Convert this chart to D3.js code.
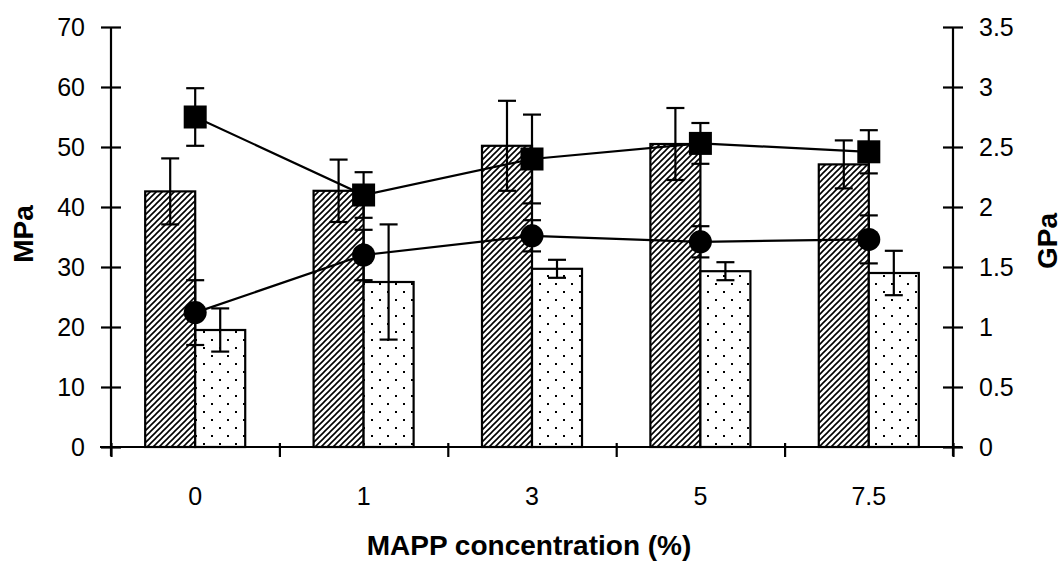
<!DOCTYPE html>
<html>
<head>
<meta charset="utf-8">
<script src="https://cdn.jsdelivr.net/npm/d3@7"></script>
<style>
  html, body { margin: 0; padding: 0; background: #fff; }
  svg { display: block; }
  text { font-family: "Liberation Sans", Arial, sans-serif; fill: #000; }
</style>
</head>
<body>
<svg id="chart" width="1063" height="562"></svg>
<script>
// ---- data ----
const categories = ["0", "1", "3", "5", "7.5"];
// bars (left axis, MPa)
const hatchedBar = [42.6, 42.7, 50.2, 50.5, 47.1];
const hatchedErr = [5.5, 5.2, 7.5, 6.0, 4.0];
const dottedBar = [19.5, 27.5, 29.7, 29.3, 29.0];
const dottedErr = [3.6, 9.6, 1.5, 1.5, 3.7];
// lines (right axis, GPa)
const squareLine = [2.75, 2.10, 2.40, 2.53, 2.46];
const squareErr = [0.24, 0.19, 0.37, 0.17, 0.18];
const circleLine = [1.12, 1.60, 1.76, 1.71, 1.73];
const circleErr = [0.27, 0.21, 0.13, 0.13, 0.20];
const leftTicks = [0, 10, 20, 30, 40, 50, 60, 70];
const rightTicks = [0, 0.5, 1, 1.5, 2, 2.5, 3, 3.5];

// ---- layout ----
const svg = d3.select("#chart");
const x0 = 111, x1 = 953, yBase = 447, yTop = 27;

const defs = svg.append("defs");
const hatch = defs.append("pattern").attr("id", "hatch")
  .attr("patternUnits", "userSpaceOnUse").attr("width", 6).attr("height", 6);
hatch.append("rect").attr("width", 6).attr("height", 6).attr("fill", "#fff");
hatch.append("path").attr("d", "M0,6 L6,0 M-1,1 L1,-1 M5,7 L7,5")
  .attr("stroke", "#000").attr("stroke-width", 1.6);
const dots = defs.append("pattern").attr("id", "dots")
  .attr("patternUnits", "userSpaceOnUse").attr("width", 16).attr("height", 16);
dots.append("rect").attr("width", 16).attr("height", 16).attr("fill", "#fff");
dots.append("rect").attr("x", 3).attr("y", 3).attr("width", 2).attr("height", 2).attr("fill", "#000");
dots.append("rect").attr("x", 11).attr("y", 11).attr("width", 2).attr("height", 2).attr("fill", "#000");

const xBand = d3.scaleBand().domain(categories).range([x0, x1])
  .paddingInner(0.406).paddingOuter(0.203);
const xSub = d3.scaleBand().domain(["h", "d"]).range([0, xBand.bandwidth()]);
const xBound = d3.scaleLinear().domain([0, categories.length]).range([x0, x1]);
const yL = d3.scaleLinear().domain([0, 70]).range([yBase, yTop]);
const yR = d3.scaleLinear().domain([0, 3.5]).range([yBase, yTop]);
const cx = c => xBand(c) + xBand.bandwidth() / 2;

// bars
const barSeries = [
  { key: "h", vals: hatchedBar, errs: hatchedErr, fill: "url(#hatch)" },
  { key: "d", vals: dottedBar, errs: dottedErr, fill: "url(#dots)" }
];
barSeries.forEach(s => {
  svg.append("g").selectAll("rect").data(categories).join("rect")
    .attr("x", c => xBand(c) + xSub(s.key))
    .attr("y", (c, i) => yL(s.vals[i]))
    .attr("width", xSub.bandwidth())
    .attr("height", (c, i) => yBase - yL(s.vals[i]))
    .attr("fill", s.fill).attr("stroke", "#000").attr("stroke-width", 2.2);
});

function errBars(xf, vals, errs, yS) {
  const g = svg.append("g").attr("stroke", "#000").attr("stroke-width", 2.2);
  categories.forEach((c, i) => {
    const x = xf(c), yt = yS(vals[i] + errs[i]), yb = yS(vals[i] - errs[i]);
    g.append("line").attr("x1", x).attr("x2", x).attr("y1", yt).attr("y2", yb);
    g.append("line").attr("x1", x - 9).attr("x2", x + 9).attr("y1", yt).attr("y2", yt);
    g.append("line").attr("x1", x - 9).attr("x2", x + 9).attr("y1", yb).attr("y2", yb);
  });
}
barSeries.forEach(s => errBars(c => xBand(c) + xSub(s.key) + xSub.bandwidth() / 2, s.vals, s.errs, yL));

// lines
const line = d3.line().x(d => d[0]).y(d => d[1]);
[squareLine, circleLine].forEach(vals => {
  svg.append("path").attr("d", line(categories.map((c, i) => [cx(c), yR(vals[i])])))
    .attr("fill", "none").attr("stroke", "#000").attr("stroke-width", 2.2);
});
errBars(cx, squareLine, squareErr, yR);
errBars(cx, circleLine, circleErr, yR);
svg.append("g").selectAll("rect").data(categories).join("rect")
  .attr("x", c => cx(c) - 11.5).attr("y", (c, i) => yR(squareLine[i]) - 11.5)
  .attr("width", 23).attr("height", 23).attr("fill", "#000");
svg.append("g").selectAll("circle").data(categories).join("circle")
  .attr("cx", c => cx(c)).attr("cy", (c, i) => yR(circleLine[i]))
  .attr("r", 11.5).attr("fill", "#000");

// axes
const axL = svg.append("g").attr("transform", `translate(${x0},0)`)
  .call(d3.axisLeft(yL).tickValues(leftTicks).tickSize(10).tickPadding(16).tickFormat(d => String(d)));
axL.selectAll(".tick line").attr("x1", -10).attr("x2", 10);
const axR = svg.append("g").attr("transform", `translate(${x1},0)`)
  .call(d3.axisRight(yR).tickValues(rightTicks).tickSize(10).tickPadding(16).tickFormat(d => String(d)));
axR.selectAll(".tick line").attr("x1", -10).attr("x2", 10);
[axL, axR].forEach(a => {
  a.select(".domain").attr("d", `M0,${yTop}V${yBase + 9}`);
  a.selectAll(".tick text").style("font-size", "25px").attr("dy", "0.35em");
});

const axB = svg.append("g").attr("transform", `translate(0,${yBase})`)
  .call(d3.axisBottom(xBound).ticks(categories.length).tickSize(10).tickFormat(""));
axB.selectAll(".tick line").attr("y1", -4).attr("y2", 10);
axB.select(".domain").attr("d", `M${x0 - 11},0H${x1 + 9}`);
const axBL = svg.append("g").attr("transform", `translate(0,${yBase})`)
  .call(d3.axisBottom(xBand).tickSize(0).tickPadding(40));
axBL.select(".domain").remove();
axBL.selectAll(".tick text").style("font-size", "25px");

svg.selectAll(".domain, .tick line").attr("stroke", "#000").attr("stroke-width", 2.2);

// titles
svg.append("text").attr("x", 529).attr("y", 555).attr("text-anchor", "middle")
  .style("font-size", "28px").style("font-weight", "bold").text("MAPP concentration (%)");
svg.append("text").attr("transform", "translate(23,234) rotate(-90)").attr("text-anchor", "middle")
  .attr("dy", "0.35em").style("font-size", "28px").style("font-weight", "bold").text("MPa");
svg.append("text").attr("transform", "translate(1047,241) rotate(-90)").attr("text-anchor", "middle")
  .attr("dy", "0.35em").style("font-size", "28px").style("font-weight", "bold").text("GPa");
</script>
</body>
</html>
